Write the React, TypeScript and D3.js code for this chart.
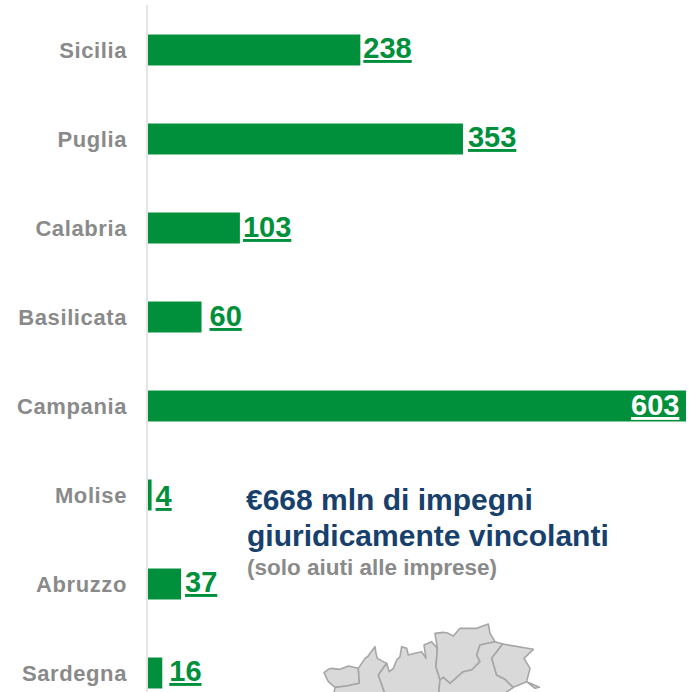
import React from "react";
import * as d3 from "d3";

const regions = ["Sicilia", "Puglia", "Calabria", "Basilicata", "Campania", "Molise", "Abruzzo", "Sardegna"];
const values = [238, 353, 103, 60, 603, 4, 37, 16];
const labelGaps = [3, 5, 3, 8, -55, 4, 4, 7];
const labelDy = [1, 1, 2, 2, 0, 4, 1, 1];

const GREEN = "#00903b";
const GREY = "#8a8a8a";
const NAVY = "#17406d";
const FONT = "'Liberation Sans', Arial, sans-serif";

// Map outlines traced in a 3x crop space (decorative background, clipped at the page bottom)
const mapShapes: [number, number][][] = [
  [[72,218],[85,208],[95,205],[120,208],[145,198],[175,205],[178,250],[140,258],[105,262],[85,245]],
  [[175,205],[195,175],[205,168],[210,160],[225,140],[228,160],[232,175],[260,190],[235,225],[258,290],[100,290],[105,262],[140,258],[178,250]],
  [[260,190],[268,215],[280,205],[290,180],[300,170],[305,140],[320,145],[325,165],[345,160],[365,155],[378,175],[372,135],[395,125],[412,145],[408,200],[420,240],[415,290],[258,290],[235,225]],
  [[405,100],[430,97],[445,100],[460,108],[480,85],[530,85],[565,72],[570,100],[585,125],[540,135],[530,165],[540,185],[515,210],[490,215],[450,250],[430,232],[420,240],[408,200],[412,145]],
  [[540,135],[585,125],[608,132],[575,175],[590,225],[615,238],[640,262],[600,290],[415,290],[420,240],[430,232],[450,250],[490,215],[515,210],[540,185],[530,165]],
  [[608,132],[700,148],[672,175],[690,205],[680,245],[718,262],[705,265],[680,245],[640,262],[615,238],[590,225],[575,175]],
];

export default function App() {
  const x = d3.scaleLinear().domain([0, 603]).range([148, 686]);
  const y = d3.scaleBand().domain(regions).range([5.5, 717.5]).paddingInner(0.652).paddingOuter(0.326);
  const line = d3.line<[number, number]>()
    .x((d) => 300 + d[0] / 3)
    .y((d) => 600 + d[1] / 3)
    .curve(d3.curveLinearClosed);

  return (
    <svg width={693} height={692} style={{ position: "absolute", left: 0, top: 0, background: "#fff" }} fontFamily={FONT}>
      <defs>
        <filter id="soft" x="-5%" y="-5%" width="110%" height="110%">
          <feGaussianBlur stdDeviation={0.5} />
        </filter>
      </defs>
      <line x1={147} x2={147} y1={5} y2={692} stroke="#dcdcdc" strokeWidth={1.5} />
      {regions.map((r, i) => {
        const by = y(r)!;
        const h = y.bandwidth();
        const inside = values[i] === 603;
        return (
          <g key={r}>
            <text x={127} y={by + h / 2 + 7.5} textAnchor="end" fontSize={22} letterSpacing={0.6} fontWeight={700} fill={GREY}>{r}</text>
            <rect x={x(0)} y={by} width={x(values[i]) - x(0)} height={h} fill={GREEN} />
            <text
              x={x(values[i]) + labelGaps[i]}
              y={by + h / 2 + (inside ? 9 : 7) + labelDy[i]}
              fontSize={29}
              fontWeight={700}
              fill={inside ? "#fff" : GREEN}
              textDecoration="underline"
            >{values[i]}</text>
          </g>
        );
      })}
      <text x={246} y={510} fontSize={30} fontWeight={700} fill={NAVY}>€668 mln di impegni</text>
      <text x={247} y={546} fontSize={30} fontWeight={700} fill={NAVY}>giuridicamente vincolanti</text>
      <text x={247} y={575} fontSize={22.5} fontWeight={700} fill={GREY}>(solo aiuti alle imprese)</text>
      <g filter="url(#soft)">
        {mapShapes.map((s, i) => (
          <path key={i} d={line(s)!} fill="#d9d9d9" stroke="#a6a6a6" strokeWidth={1.6} strokeLinejoin="round" />
        ))}
      </g>
    </svg>
  );
}
